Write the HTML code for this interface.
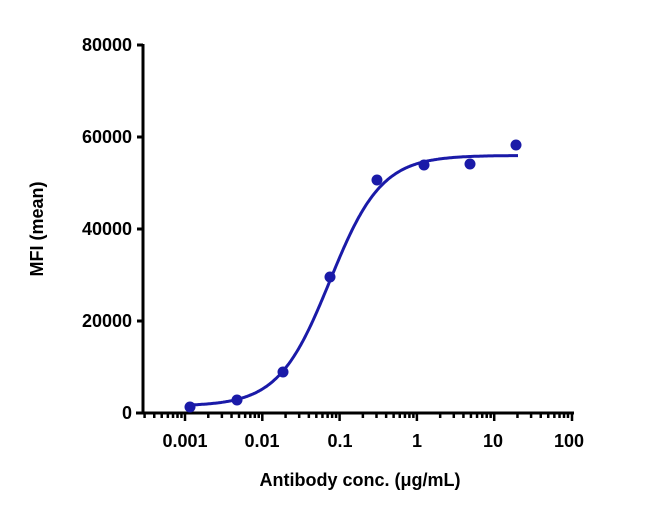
<!DOCTYPE html>
<html><head><style>body{margin:0;background:#fff}svg{display:block}</style></head><body>
<svg id="sv" width="650" height="516" xmlns="http://www.w3.org/2000/svg" font-family="Liberation Sans, sans-serif" font-weight="bold">
<g stroke="#000" stroke-width="3" fill="none">
<line x1="143" y1="44" x2="143" y2="414"/>
<line x1="136" y1="413" x2="574" y2="413"/>
<line x1="137" y1="45" x2="143" y2="45"/>
<line x1="137" y1="137" x2="143" y2="137"/>
<line x1="137" y1="229" x2="143" y2="229"/>
<line x1="137" y1="321" x2="143" y2="321"/>
</g>
<g stroke="#000" stroke-width="2.5" id="t"></g>
<g font-size="18" text-anchor="end" fill="#000">
<text x="132" y="51">80000</text><text x="132" y="143">60000</text>
<text x="132" y="235">40000</text><text x="132" y="327">20000</text><text x="132" y="419">0</text>
</g>
<g font-size="18" text-anchor="middle" fill="#000">
<text x="185" y="447">0.001</text><text x="262" y="447">0.01</text><text x="340" y="447">0.1</text>
<text x="417" y="447">1</text><text x="493" y="447">10</text><text x="569" y="447">100</text>
</g>
<text x="360" y="486" font-size="18" text-anchor="middle">Antibody conc. (μg/mL)</text>
<text transform="translate(43,229) rotate(-90)" font-size="18" text-anchor="middle">MFI (mean)</text>
<path id="c" fill="none" stroke="#1a1aa8" stroke-width="3"/>
<g fill="#1a1aa8">
<circle cx="190" cy="407" r="5.5"/><circle cx="237" cy="400" r="5.5"/><circle cx="283" cy="372" r="5.5"/>
<circle cx="330" cy="277" r="5.5"/><circle cx="377" cy="180" r="5.5"/><circle cx="424" cy="165" r="5.5"/>
<circle cx="470" cy="164" r="5.5"/><circle cx="516" cy="145" r="5.5"/>
</g>
<script>
var NS='http://www.w3.org/2000/svg',t=document.getElementById('t');
function ln(x,L){var e=document.createElementNS(NS,'line');e.setAttribute('x1',x);e.setAttribute('x2',x);e.setAttribute('y1',413);e.setAttribute('y2',413+L);t.appendChild(e);}
for(var d=-4;d<2;d++)for(var k=1;k<10;k++){var x=185+77.3*(d+3+Math.log10(k));if(x<140||x>574)continue;ln(x,k==1?8:5);}
ln(572,8);
var p='';for(var x=188;x<=518;x++){var lc=(x-185)/77.3-3;var c=Math.pow(10,lc);var y=1500+(56000-1500)/(1+Math.pow(0.075/c,1.3));var py=413-y*92/20000;p+=(x==188?'M':'L')+x+','+py.toFixed(1);}
document.getElementById('c').setAttribute('d',p);
</script>
</svg>
</body></html>
